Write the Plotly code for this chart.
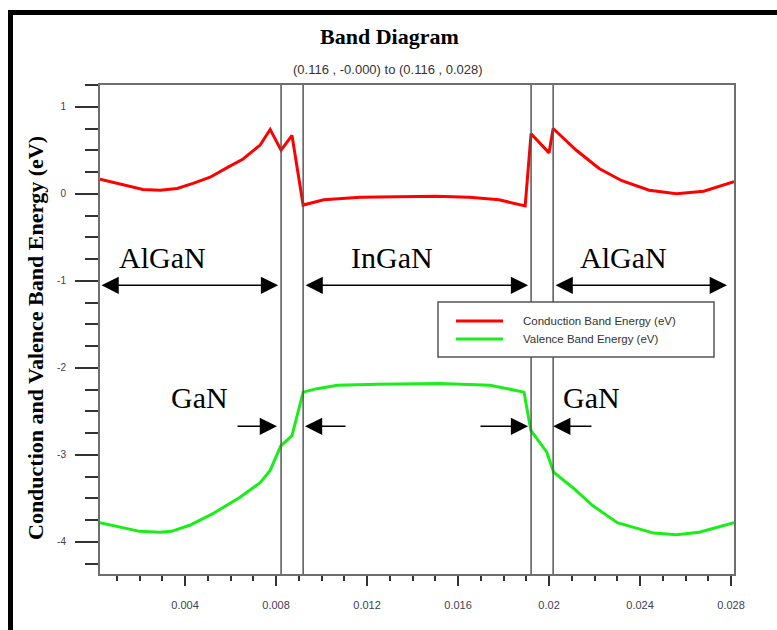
import plotly.graph_objects as go

# Cut line position (um) and band energies (eV)
x_cb = [0.00026, 0.00145, 0.00215, 0.0029, 0.00365, 0.00435, 0.0051, 0.00585,
        0.00655, 0.0073, 0.00774, 0.00822, 0.0087, 0.00919, 0.0101, 0.0117,
        0.0135, 0.0150, 0.0165, 0.0178, 0.01895, 0.01921, 0.0200, 0.02018,
        0.0212, 0.0222, 0.0232, 0.0244, 0.0256, 0.0268, 0.02813]
e_cb = [0.167, 0.09, 0.05, 0.04, 0.06, 0.12, 0.19, 0.30,
        0.40, 0.56, 0.74, 0.50, 0.67, -0.13, -0.07, -0.04,
        -0.03, -0.03, -0.04, -0.07, -0.14, 0.69, 0.47, 0.75,
        0.50, 0.29, 0.15, 0.04, 0.00, 0.03, 0.14]

x_vb = [0.00026, 0.0020, 0.0029, 0.0034, 0.0042, 0.0052, 0.0064, 0.0073,
        0.00774, 0.0082, 0.0087, 0.00919, 0.0098, 0.0107, 0.0125, 0.0152,
        0.0174, 0.0184, 0.0189, 0.0192, 0.0199, 0.0202, 0.0211, 0.0219,
        0.0230, 0.0246, 0.0256, 0.0266, 0.02813]
e_vb = [-3.78, -3.88, -3.89, -3.88, -3.81, -3.68, -3.49, -3.32,
        -3.18, -2.90, -2.78, -2.28, -2.24, -2.20, -2.19, -2.18,
        -2.20, -2.25, -2.28, -2.72, -2.97, -3.20, -3.39, -3.58,
        -3.78, -3.90, -3.92, -3.89, -3.78]

# Layer interfaces along the cut
interfaces = [0.00822, 0.00919, 0.01921, 0.02018]

y_tickvals = [-4, -3, -2, -1, 0, 1]
y_ticktext = ["-4", "-3", "-2", "-1", "0", "1"]

series_names = ["Conduction Band Energy (eV)", "Valence Band Energy (eV)"]
series_colors = ["#ff0000", "#19ee19"]

# Figure geometry (pixels)
W, H = 777, 630
ML, MR, MT, MB = 100, 43, 85, 56


def px(x):
    return (x - ML) / (W - ML - MR)


def py(y):
    return (H - MB - y) / (H - MT - MB)


fig = go.Figure()
fig.add_trace(go.Scatter(x=x_cb, y=e_cb, mode="lines", name=series_names[0],
                         line=dict(color=series_colors[0], width=3),
                         showlegend=False))
fig.add_trace(go.Scatter(x=x_vb, y=e_vb, mode="lines", name=series_names[1],
                         line=dict(color=series_colors[1], width=3),
                         showlegend=False))

shapes = []
# interface markers
for xi in interfaces:
    shapes.append(dict(type="line", xref="x", yref="paper", x0=xi, x1=xi,
                       y0=0, y1=1, line=dict(color="#555555", width=1.5)))
# outer frame (left and top edges)
shapes.append(dict(type="rect", xref="paper", yref="paper",
                   x0=px(8), x1=px(13), y0=py(700), y1=py(10),
                   fillcolor="black", line=dict(width=0), layer="above"))
shapes.append(dict(type="rect", xref="paper", yref="paper",
                   x0=px(8), x1=px(800), y0=py(15), y1=py(10),
                   fillcolor="black", line=dict(width=0), layer="above"))
# legend box
shapes.append(dict(type="rect", xref="paper", yref="paper",
                   x0=px(438), x1=px(714), y0=py(357), y1=py(302),
                   fillcolor="white", line=dict(color="#555555", width=1.5),
                   layer="above"))
leg_y = [321, 339]
for name, col, yy in zip(series_names, series_colors, leg_y):
    shapes.append(dict(type="line", xref="paper", yref="paper",
                       x0=px(456), x1=px(503), y0=py(yy), y1=py(yy),
                       line=dict(color=col, width=3), layer="above"))

annotations = []
for name, yy in zip(series_names, leg_y):
    annotations.append(dict(xref="paper", yref="paper", x=px(521), y=py(yy),
                            xanchor="left", yanchor="middle", showarrow=False,
                            text=name,
                            font=dict(family="Arial", size=11.5, color="#333333")))

# titles
annotations.append(dict(xref="paper", yref="paper", x=px(389), y=py(37),
                        xanchor="center", yanchor="middle", showarrow=False,
                        text="<b>Band Diagram</b>",
                        font=dict(family="Liberation Serif", size=22, color="black")))
annotations.append(dict(xref="paper", yref="paper", x=px(388), y=py(70),
                        xanchor="center", yanchor="middle", showarrow=False,
                        text="(0.116 , -0.000) to (0.116 , 0.028)",
                        font=dict(family="Arial", size=13, color="#333333")))
annotations.append(dict(xref="paper", yref="paper", x=px(35), y=py(338),
                        xanchor="center", yanchor="middle", showarrow=False,
                        textangle=-90,
                        text="<b>Conduction and Valence Band Energy (eV)</b>",
                        font=dict(family="Liberation Serif", size=22, color="black")))

# layer names
layer_font = dict(family="Liberation Serif", size=30, color="black")
for label, xc, yc in [("AlGaN", 162, 257), ("InGaN", 392, 257), ("AlGaN", 623, 257),
                      ("GaN", 199, 398), ("GaN", 591, 397)]:
    annotations.append(dict(xref="paper", yref="paper", x=px(xc), y=py(yc),
                            xanchor="center", yanchor="middle", showarrow=False,
                            text=label, font=layer_font))

arrow_common = dict(xref="x", yref="y", axref="x", ayref="y", text="",
                    showarrow=True, arrowhead=2, arrowsize=2.3, arrowwidth=1.5,
                    arrowcolor="black")
# double arrows spanning each layer
y_span = -1.052
for x0, x1 in [(0.00026, 0.00809), (0.00923, 0.01908), (0.02022, 0.02782)]:
    annotations.append(dict(x=x1, y=y_span, ax=x0, ay=y_span,
                            arrowside="end+start", startarrowhead=2,
                            startarrowsize=2.3, **arrow_common))
# pointers marking the thin GaN layers
y_gan = -2.672
for tail, head in [(0.00624, 0.00804), (0.01112, 0.00927),
                   (0.01692, 0.01908), (0.02193, 0.02018)]:
    annotations.append(dict(x=head, y=y_gan, ax=tail, ay=y_gan, **arrow_common))

fig.update_layout(
    width=W, height=H,
    margin=dict(l=ML, r=MR, t=MT, b=MB, autoexpand=False),
    paper_bgcolor="white", plot_bgcolor="white",
    shapes=shapes, annotations=annotations,
    showlegend=False,
)
fig.update_xaxes(
    range=[0.00026, 0.02813], showgrid=False, zeroline=False,
    showline=True, linecolor="#6e6e6e", linewidth=2, mirror=True,
    tick0=0, dtick=0.004, ticks="outside", ticklen=10, tickwidth=2,
    tickcolor="#333333", ticklabelstandoff=10,
    tickfont=dict(family="Arial", size=11, color="#3d3d55"),
    minor=dict(dtick=0.001, tick0=0, ticks="outside", ticklen=5,
               tickwidth=1.5, tickcolor="#333333", showgrid=False),
)
fig.update_yaxes(
    range=[-4.37, 1.25], showgrid=False, zeroline=False,
    showline=True, linecolor="#6e6e6e", linewidth=2, mirror=True,
    tickvals=y_tickvals, ticktext=y_ticktext,
    ticks="outside", ticklen=23, tickwidth=2, tickcolor="#333333",
    ticklabelstandoff=7,
    tickfont=dict(family="Arial", size=10, color="#3d3d55"),
    minor=dict(dtick=0.25, tick0=0, ticks="outside", ticklen=13,
               tickwidth=1.5, tickcolor="#333333", showgrid=False),
)

fig.write_html("out.html")
